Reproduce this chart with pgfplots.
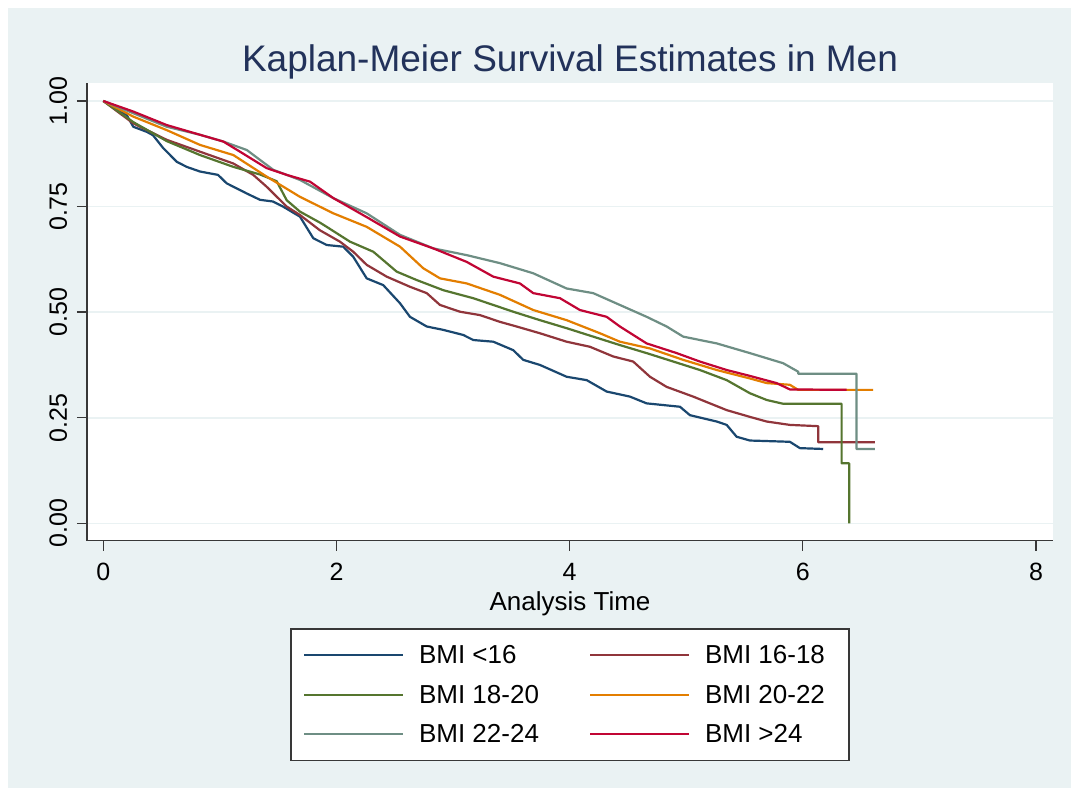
\documentclass[border=0pt]{standalone}
\usepackage{pgfplots}
\pgfplotsset{compat=1.18}
\usepackage{fontspec}
\setmainfont{Liberation Sans}
\definecolor{bg}{HTML}{EAF2F3}
\definecolor{titlecol}{HTML}{22325A}
\definecolor{cA}{HTML}{1A476F}
\definecolor{cB}{HTML}{90353B}
\definecolor{cC}{HTML}{55752F}
\definecolor{cD}{HTML}{E37E00}
\definecolor{cE}{HTML}{6E8E84}
\definecolor{cF}{HTML}{C10534}

\pgfplotstableread{
t s
0 1.0
0.20 0.967
0.257 0.939
0.372 0.927
0.426 0.919
0.512 0.889
0.63 0.856
0.715 0.844
0.829 0.833
0.984 0.825
1.058 0.805
1.23 0.781
1.344 0.766
1.455 0.762
1.541 0.750
1.687 0.726
1.801 0.675
1.916 0.659
2.058 0.655
2.144 0.631
2.259 0.580
2.401 0.564
2.545 0.521
2.63 0.489
2.774 0.466
2.916 0.458
3.087 0.446
3.173 0.434
3.345 0.430
3.516 0.410
3.602 0.387
3.745 0.375
3.974 0.347
4.146 0.339
4.317 0.312
4.517 0.300
4.660 0.284
4.946 0.276
5.032 0.256
5.261 0.241
5.347 0.233
5.432 0.205
5.546 0.196
5.889 0.193
5.975 0.178
6.175 0.176
}\bmiA

\pgfplotstableread{
t s
0 1
0.257 0.947
0.544 0.908
0.829 0.880
1.115 0.852
1.286 0.825
1.401 0.797
1.573 0.750
1.687 0.730
1.857 0.694
2.029 0.667
2.144 0.643
2.259 0.612
2.431 0.584
2.631 0.560
2.774 0.545
2.888 0.517
3.059 0.501
3.231 0.493
3.402 0.477
3.545 0.466
3.745 0.450
3.974 0.430
4.174 0.418
4.374 0.395
4.545 0.383
4.689 0.347
4.832 0.323
5.060 0.300
5.203 0.284
5.347 0.268
5.546 0.252
5.69 0.241
5.889 0.233
6.132 0.230
6.132 0.192
6.618 0.192
}\bmiB

\pgfplotstableread{
t s
0 1
0.257 0.950
0.544 0.905
0.829 0.872
1.115 0.844
1.344 0.826
1.487 0.810
1.573 0.765
1.687 0.738
1.858 0.712
1.916 0.702
2.115 0.667
2.316 0.643
2.516 0.596
2.688 0.576
2.916 0.552
3.173 0.533
3.345 0.517
3.516 0.501
3.745 0.481
3.974 0.462
4.202 0.442
4.431 0.422
4.66 0.403
4.889 0.383
5.117 0.363
5.347 0.339
5.546 0.308
5.69 0.292
5.832 0.283
6.333 0.283
6.333 0.142
6.398 0.142
6.398 0.0
}\bmiC

\pgfplotstableread{
t s
0 1
0.257 0.963
0.544 0.931
0.829 0.896
1.115 0.872
1.401 0.821
1.687 0.773
1.973 0.734
2.259 0.702
2.545 0.655
2.744 0.604
2.888 0.580
3.117 0.568
3.402 0.541
3.688 0.505
3.974 0.481
4.260 0.450
4.431 0.430
4.689 0.414
4.974 0.387
5.261 0.363
5.546 0.343
5.69 0.332
5.889 0.328
5.96 0.316
6.604 0.316
}\bmiD

\pgfplotstableread{
t s
0 1
0.257 0.971
0.544 0.939
0.829 0.920
1.029 0.904
1.23 0.884
1.458 0.837
1.687 0.813
1.973 0.770
2.259 0.734
2.545 0.683
2.830 0.651
3.117 0.635
3.402 0.616
3.688 0.592
3.974 0.556
4.202 0.545
4.431 0.517
4.66 0.489
4.832 0.466
4.974 0.442
5.261 0.426
5.546 0.403
5.832 0.379
5.96 0.359
5.96 0.354
6.461 0.354
6.461 0.176
6.618 0.176
}\bmiE

\pgfplotstableread{
t s
0 1
0.257 0.975
0.544 0.943
0.829 0.920
1.029 0.904
1.172 0.880
1.401 0.841
1.573 0.825
1.773 0.809
1.973 0.770
2.259 0.725
2.545 0.679
2.830 0.651
3.117 0.619
3.345 0.584
3.573 0.568
3.688 0.545
3.917 0.533
4.088 0.505
4.317 0.489
4.431 0.466
4.66 0.426
4.918 0.403
5.117 0.383
5.347 0.363
5.546 0.349
5.775 0.332
5.889 0.317
6.376 0.316
}\bmiF

\begin{document}
\begin{tikzpicture}[x=1pt,y=1pt]
\fill[white] (0,0) rectangle (1071,788);
\fill[bg] (8,0) rectangle (1071,780);
\begin{axis}[
  at={(87pt,247.3pt)}, anchor=south west,
  scale only axis, width=966pt, height=458pt,
  xmin=-0.14, xmax=8.146, ymin=-0.0412, ymax=1.0433,
  axis background/.style={fill=white},
  axis x line*=bottom, axis y line*=left,
  axis line style={-, line width=1.3pt, color=black!78},
  tick align=outside, major tick length=10pt,
  every tick/.style={line width=1.3pt, color=black!78},
  xtick={0,2,4,6,8}, ytick={0,0.25,0.5,0.75,1},
  ymajorgrids, major grid style={line width=1.6pt, color=bg},
  /pgf/number format/assume math mode=true,
  tick label style={font=\fontsize{25}{30}\selectfont, text=black},
  yticklabel style={rotate=90, anchor=base, inner sep=0pt,
     /pgf/number format/.cd, fixed, fixed zerofill, precision=2},
  xticklabel style={anchor=north, inner sep=0pt},
  yticklabel shift=10pt,
  xticklabel shift=12pt,
  xlabel={Analysis Time},
  xlabel style={at={(axis description cs:0.5,-0.1513)}, anchor=base, font=\fontsize{26}{30}\selectfont},
  title={Kaplan-Meier Survival Estimates in Men},
  title style={at={(axis description cs:0.5,1.0105)}, anchor=base, font=\fontsize{37}{42}\selectfont, text=titlecol},
  legend columns=2,
  legend cell align=left,
  legend image code/.code={\draw[#1, line width=2pt] (0pt,0pt) -- (99pt,0pt);},
  legend style={at={(axis description cs:0.5,-0.1913)}, anchor=north,
     draw=black!78, line width=1.3pt, fill=white,
     font=\fontsize{26}{30}\selectfont,
     nodes={inner sep=0pt},
     inner xsep=12pt, inner ysep=16.5pt, row sep=19.8pt,
     /tikz/every odd column/.append style={column sep=15pt},
     /tikz/every even column/.append style={column sep=50pt}},
  every axis plot/.append style={line width=2.2pt, line join=round},
]
\addplot[cA] table[x=t,y=s] {\bmiA};
\addlegendentry{BMI <16}
\addplot[cB] table[x=t,y=s] {\bmiB};
\addlegendentry{BMI 16-18\rule{12pt}{0pt}}
\addplot[cC] table[x=t,y=s] {\bmiC};
\addlegendentry{BMI 18-20}
\addplot[cD] table[x=t,y=s] {\bmiD};
\addlegendentry{BMI 20-22\rule{12pt}{0pt}}
\addplot[cE] table[x=t,y=s] {\bmiE};
\addlegendentry{BMI 22-24}
\addplot[cF] table[x=t,y=s] {\bmiF};
\addlegendentry{BMI >24\rule{12pt}{0pt}}
\end{axis}
\end{tikzpicture}
\end{document}
